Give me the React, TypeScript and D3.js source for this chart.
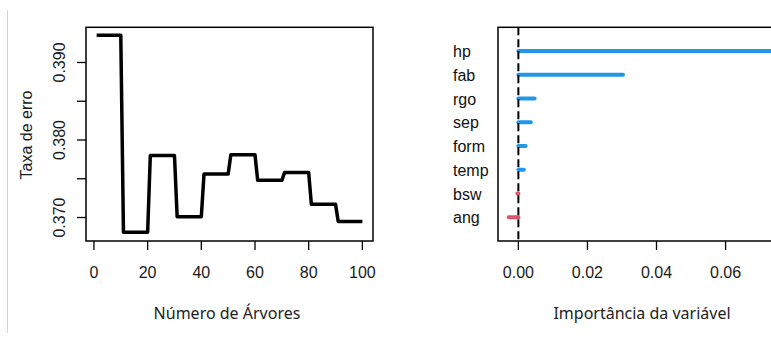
import * as d3 from "d3";

// Left panel: error rate vs number of trees (step corners)
const trees = [1, 10, 11, 20, 21, 30, 31, 40, 41, 50, 51, 60, 61, 70, 71, 80, 81, 90, 91, 100];
const errRate = [
  0.3935, 0.3935, 0.3681, 0.3681, 0.3780, 0.3780, 0.3701, 0.3701, 0.3756, 0.3756,
  0.3781, 0.3781, 0.3748, 0.3748, 0.3758, 0.3758, 0.3717, 0.3717, 0.3695, 0.3695,
];
const treeTicks = [0, 20, 40, 60, 80, 100];
const errTicks = [0.37, 0.375, 0.38, 0.385, 0.39];
const errLabeled = [0.37, 0.38, 0.39];

// Right panel: variable importance
const vars = ["hp", "fab", "rgo", "sep", "form", "temp", "bsw", "ang"];
const importance = [0.0744, 0.0303, 0.0047, 0.0036, 0.0021, 0.0016, -0.0003, -0.0028];
const impTicks = [0, 0.02, 0.04, 0.06];

const W = 771;
const H = 339;
const BLUE = "#2297E6";
const RED = "#DF536B";
const tickFont = "'Liberation Sans', Arial, sans-serif";
const titleFont = "'Noto Sans', 'Open Sans', sans-serif";

export default function App() {
  // left panel geometry
  const lBox = { x0: 86, x1: 373, y0: 27.3, y1: 241 };
  const xTree = d3.scaleLinear().domain([-2.96, 103.96]).range([lBox.x0, lBox.x1]);
  const yErr = d3.scaleLinear().domain([0.36697, 0.39454]).range([lBox.y1, lBox.y0]);
  const errLine = d3.line<number>().x((_, i) => xTree(trees[i])).y(d => yErr(d));

  // right panel geometry (box runs past the right edge of the picture)
  const rBox = { x0: 498, x1: 786, y0: 27.3, y1: 241 };
  const xImp = d3.scaleLinear().domain([-0.0059, 0.0775]).range([rBox.x0, rBox.x1]);
  const yVar = d3.scaleLinear().domain([0, 9]).range([rBox.y0, rBox.y1]);

  return (
    <svg width={W} height={H} style={{ position: "absolute", left: 0, top: 0, background: "#fff" }}>
      <line x1={7.5} x2={7.5} y1={10} y2={333} stroke="#d4d4d4" strokeWidth={1} />

      {/* left panel */}
      <g>
        <path d={errLine(errRate) ?? ""} fill="none" stroke="#000" strokeWidth={3.5} strokeLinejoin="round" />
        <rect x={lBox.x0} y={lBox.y0} width={lBox.x1 - lBox.x0} height={lBox.y1 - lBox.y0}
          fill="none" stroke="#000" strokeWidth={1.5} />
        {treeTicks.map(t => (
          <g key={t}>
            <line x1={xTree(t)} x2={xTree(t)} y1={lBox.y1} y2={lBox.y1 + 9} stroke="#000" strokeWidth={1.3} />
            <text x={xTree(t)} y={278} textAnchor="middle" fontFamily={tickFont} fontSize={16} fill="#1a1a1a">{t}</text>
          </g>
        ))}
        {errTicks.map(t => (
          <line key={t} x1={lBox.x0 - 9} x2={lBox.x0} y1={yErr(t)} y2={yErr(t)} stroke="#000" strokeWidth={1.3} />
        ))}
        {errLabeled.map(t => (
          <text key={t} transform={`translate(65,${yErr(t)}) rotate(-90)`} textAnchor="middle"
            fontFamily={tickFont} fontSize={16} fill="#1a1a1a">{d3.format(".3f")(t)}</text>
        ))}
        <text transform={`translate(31.5,135) rotate(-90)`} textAnchor="middle"
          fontFamily={tickFont} fontSize={16} fill="#1a1a1a">Taxa de erro</text>
        <text x={227} y={319} textAnchor="middle" fontFamily={titleFont} fontSize={16} fill="#222">Número de Árvores</text>
      </g>

      {/* right panel */}
      <g>
        {importance.map((v, i) => (
          <line key={vars[i]} x1={xImp(0)} x2={xImp(v)} y1={yVar(i + 1)} y2={yVar(i + 1)}
            stroke={v >= 0 ? BLUE : RED} strokeWidth={4} strokeLinecap="round" />
        ))}
        <line x1={xImp(0)} x2={xImp(0)} y1={rBox.y0} y2={rBox.y1} stroke="#000" strokeWidth={2} strokeDasharray="8,4" />
        <rect x={rBox.x0} y={rBox.y0} width={rBox.x1 - rBox.x0} height={rBox.y1 - rBox.y0}
          fill="none" stroke="#000" strokeWidth={1.5} />
        {vars.map((v, i) => (
          <text key={v} x={453} y={yVar(i + 1) + 6} fontFamily={tickFont} fontSize={16} fill="#111">{v}</text>
        ))}
        {impTicks.map(t => (
          <g key={t}>
            <line x1={xImp(t)} x2={xImp(t)} y1={rBox.y1} y2={rBox.y1 + 9} stroke="#000" strokeWidth={1.3} />
            <text x={xImp(t)} y={278} textAnchor="middle" fontFamily={tickFont} fontSize={16} fill="#1a1a1a">
              {d3.format(".2f")(t)}
            </text>
          </g>
        ))}
        <text x={642} y={319} textAnchor="middle" fontFamily={titleFont} fontSize={16} fill="#222">Importância da variável</text>
      </g>
    </svg>
  );
}
